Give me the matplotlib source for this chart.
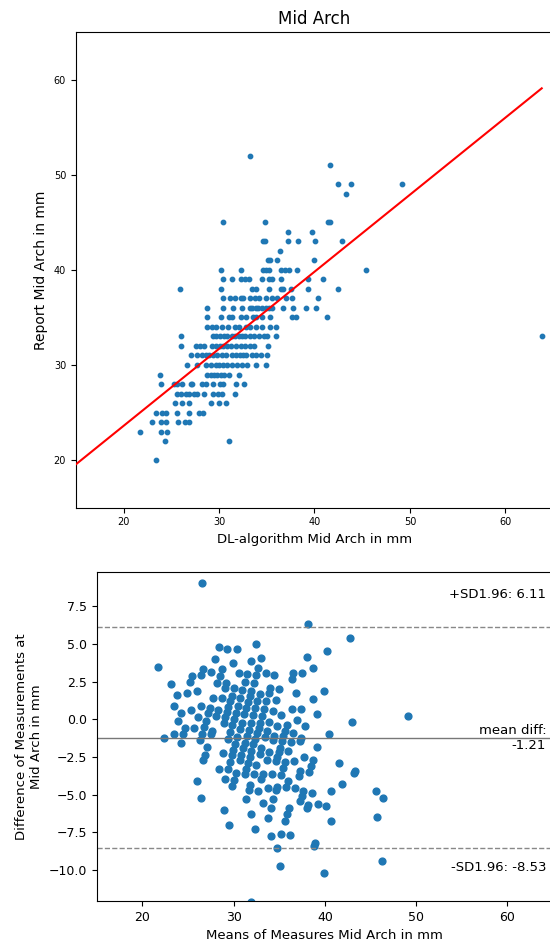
import numpy as np
import matplotlib
matplotlib.use('Agg')
import matplotlib.pyplot as plt

# report values are whole mm; for each one, the DL-algorithm readings on that row
report_rows = [52, 51, 49, 48, 45, 44, 43, 42, 41, 40, 39, 38, 37, 36, 35, 34,
               33, 32, 31, 30, 29, 28, 27, 26, 25, 24, 23, 22, 20]
dl_rows = [
    [33.21],
    [41.59],
    [42.50, 43.79, 49.2],
    [43.27],
    [30.42, 34.82, 41.45, 41.59],
    [37.23, 39.74],
    [34.61, 34.82, 37.23, 38.27, 40.09, 42.85],
    [36.39],
    [35.13, 35.34, 36.11, 39.99],
    [30.25, 32.31, 34.61, 34.89, 35.24, 36.50, 36.91, 37.33, 38.17, 45.4],
    [30.46, 31.40, 32.27, 32.73, 33.14, 34.47, 35.24, 35.59, 36.50, 39.36, 40.89],
    [25.88, 30.25, 33.49, 33.91, 35.24, 36.53, 36.74, 37.54, 39.36, 42.50],
    [30.46, 31.12, 31.68, 32.31, 32.52, 33.28, 33.77, 34.19, 34.89, 35.52, 36.11,
     36.98, 37.68, 40.40],
    [28.71, 30.46, 31.47, 32.38, 33.25, 33.49, 33.84, 34.12, 34.54, 34.89, 35.24,
     35.59, 36.71, 37.75, 39.08, 40.13],
    [28.71, 30.25, 31.05, 31.40, 32.27, 32.80, 33.60, 33.91, 34.54, 35.31, 37.68,
     38.10, 41.35],
    [28.71, 29.31, 29.65, 30.35, 30.98, 31.68, 32.10, 32.80, 33.21, 33.84, 34.54,
     35.31, 36.01],
    [25.99, 29.38, 29.72, 30.07, 30.53, 30.88, 31.33, 31.68, 32.10, 32.45, 32.73,
     33.21, 33.67, 34.19, 34.71, 35.06, 35.94, 63.8],
    [25.99, 27.56, 27.98, 28.43, 29.31, 29.65, 30.07, 30.42, 30.88, 31.26, 31.75,
     32.27, 32.73, 33.21, 33.67, 35.10],
    [27.07, 27.73, 28.19, 28.61, 28.96, 29.38, 29.83, 30.35, 30.77, 31.33, 31.75,
     32.17, 32.52, 32.87, 33.42, 33.91, 34.37, 35.06],
    [26.69, 27.73, 28.68, 29.17, 29.65, 30.00, 30.42, 30.88, 31.40, 31.92, 32.45,
     32.97, 33.84, 34.96],
    [23.79, 28.78, 29.13, 29.48, 29.83, 30.18, 30.53, 31.05, 32.10],
    [23.93, 25.29, 25.64, 26.16, 27.04, 27.21, 28.19, 28.61, 29.38, 30.07, 30.42,
     31.75, 32.66],
    [25.64, 25.99, 26.51, 26.86, 27.39, 27.73, 28.40, 29.38, 29.90, 30.35, 31.64],
    [25.40, 26.16, 26.86, 29.13, 30.00, 30.77],
    [23.44, 24.00, 24.42, 25.64, 26.86, 27.91, 28.33],
    [23.02, 23.89, 24.42, 25.71, 26.44, 26.86],
    [21.73, 23.89, 24.59],
    [24.35, 31.05],
    [23.44],
]

# fitted line
fit_slope = 0.81
fit_intercept = 7.4

# limits of agreement printed on the chart
mean_diff = -1.21
upper_loa = 6.11
lower_loa = -8.53

dl = np.concatenate([np.array(r, dtype=float) for r in dl_rows])
report = np.concatenate([np.full(len(r), v, dtype=float) for r, v in zip(dl_rows, report_rows)])

blue = '#1f77b4'

fig = plt.figure(figsize=(5.5, 9.46), dpi=100)

# --- scatter with regression line
ax1 = fig.add_axes([0.1378, 0.4633, 0.868, 0.5029])
ax1.scatter(dl, report, s=10, color=blue, zorder=2)
line_x = np.array([15, dl.max()])
ax1.plot(line_x, fit_slope * line_x + fit_intercept, color='red', lw=1.5, zorder=3)
ax1.set_xlim(15, 65)
ax1.set_ylim(15, 65)
ax1.set_title('Mid Arch', fontsize=12)
ax1.set_xlabel('DL-algorithm Mid Arch in mm', fontsize=9.5)
ax1.set_ylabel('Report Mid Arch in mm', fontsize=10)
ax1.tick_params(labelsize=7)

# --- Bland-Altman
means = (dl + report) / 2
diffs = dl - report

ax2 = fig.add_axes([0.176, 0.0476, 0.8295, 0.3475])
ax2.scatter(means, diffs, s=24, color=blue, zorder=2)
ax2.axhline(mean_diff, color='#777777', lw=1)
ax2.axhline(upper_loa, color='#888888', lw=1, ls='--')
ax2.axhline(lower_loa, color='#888888', lw=1, ls='--')
ax2.set_xlim(15, 65)
ax2.set_ylim(-12.05, 9.75)

tr = ax2.get_yaxis_transform()
ax2.text(0.985, 8.3, '+SD1.96: %.2f' % upper_loa, transform=tr, ha='right', va='center', fontsize=9.5)
ax2.text(0.985, mean_diff, 'mean diff:\n%.2f' % mean_diff, transform=tr, ha='right', va='center', fontsize=9.5)
ax2.text(0.985, -9.8, '-SD1.96: %.2f' % lower_loa, transform=tr, ha='right', va='center', fontsize=9.5)

ax2.set_xlabel('Means of Measures Mid Arch in mm', fontsize=9.5)
ax2.set_ylabel('Difference of Measurements at\nMid Arch in mm', fontsize=9.5)
ax2.tick_params(labelsize=9)

fig.savefig('out.png', dpi=100)
